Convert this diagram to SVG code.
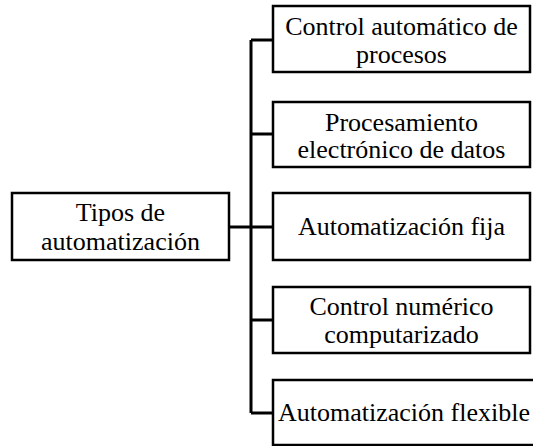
<svg xmlns="http://www.w3.org/2000/svg" width="533" height="446" viewBox="0 0 533 446">
  <style>
    .box { fill: #ffffff; stroke: #000000; stroke-width: 2.5; }
    .wire { fill: none; stroke: #000000; stroke-width: 3; }
  </style>
  <rect width="533" height="446" fill="#ffffff"/>

  <!-- connectors: root to trunk, trunk, and branches -->
  <g id="connectors">
    <path class="wire" d="M229 227 H251"/>
    <path class="wire" d="M251 40 V413"/>
    <path class="wire" d="M251 40 H273 M251 134 H273 M251 227 H273 M251 320 H273 M251 413 H273"/>
  </g>

  <g font-family="Liberation Serif" font-size="26" fill="#000000" text-anchor="middle">
    <g id="root">
      <rect class="box" x="12" y="193" width="217" height="67"/>
      <text x="120.5" y="221">Tipos de</text>
      <text x="120.5" y="250">automatización</text>
    </g>

    <g id="control-automatico">
      <rect class="box" x="273" y="6" width="257" height="66"/>
      <text x="401.5" y="35">Control automático de</text>
      <text x="401.5" y="63">procesos</text>
    </g>

    <g id="procesamiento-datos">
      <rect class="box" x="273" y="102" width="257" height="65"/>
      <text x="401.5" y="131">Procesamiento</text>
      <text x="401.5" y="158">electrónico de datos</text>
    </g>

    <g id="automatizacion-fija">
      <rect class="box" x="273" y="193" width="257" height="67"/>
      <text x="401.5" y="235">Automatización fija</text>
    </g>

    <g id="control-numerico">
      <rect class="box" x="273" y="287" width="257" height="66"/>
      <text x="401.5" y="315">Control numérico</text>
      <text x="401.5" y="343">computarizado</text>
    </g>

    <g id="automatizacion-flexible">
      <rect class="box" x="273" y="380" width="275" height="65"/>
      <text x="278" y="421" text-anchor="start">Automatización flexible</text>
    </g>
  </g>
</svg>
